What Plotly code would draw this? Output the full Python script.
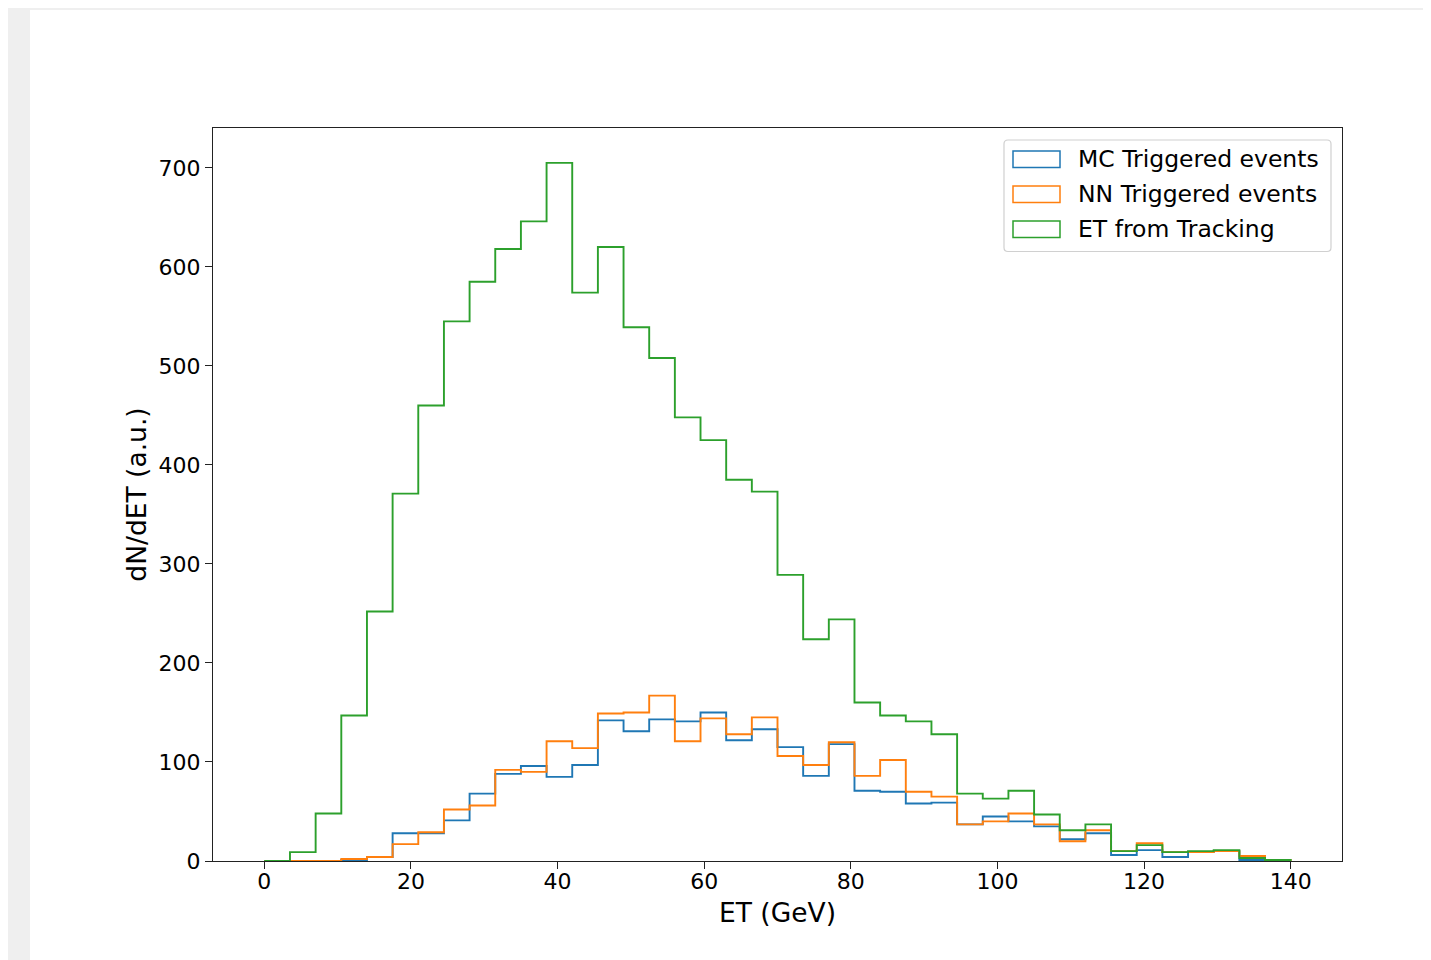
import plotly.graph_objects as go

# ---- data ----
bin_start = 0.0
bin_width = 3.5
n_bins = 40

mc_triggered = [0, 0, 0, 1, 4, 28, 28, 41, 68, 88, 96, 85, 97, 142, 131, 143, 141, 150, 122, 133,
                115, 86, 118, 71, 70, 58, 59, 37, 45, 40, 35, 22, 28, 6, 11, 4, 9, 10, 1, 0]
nn_triggered = [0, 0, 0, 2, 4, 17, 29, 52, 56, 92, 90, 121, 114, 149, 150, 167, 121, 144, 128, 145,
                106, 97, 120, 86, 102, 70, 65, 37, 40, 48, 37, 20, 31, 10, 18, 9, 9, 10, 5, 1]
et_tracking = [0, 9, 48, 147, 252, 371, 460, 545, 585, 618, 646, 705, 574, 620, 539, 508, 448, 425, 385, 373,
               289, 224, 244, 160, 147, 141, 128, 68, 63, 71, 47, 31, 37, 10, 16, 9, 10, 11, 3, 1]

series_names = ["MC Triggered events", "NN Triggered events", "ET from Tracking"]
series_colors = ["#1f77b4", "#ff7f0e", "#2ca02c"]
series_values = [mc_triggered, nn_triggered, et_tracking]

x_ticks = [0, 20, 40, 60, 80, 100, 120, 140]
y_ticks = [0, 100, 200, 300, 400, 500, 600, 700]

edges = [bin_start + i * bin_width for i in range(n_bins + 1)]

# ---- geometry of the page (page body offsets the figure by 8px) ----
OFF = 8
W, H = 1431, 960
L, T = 213 - OFF, 128 - OFF
pw, ph = 1129, 733
R, B = W - L - pw, H - T - ph


def px_x(px):
    return (px - OFF - L) / pw


def px_y(py):
    return (T + ph - (py - OFF)) / ph


FONT = "DejaVu Sans"
fig = go.Figure()

for name, color, vals in zip(series_names, series_colors, series_values):
    xs = [edges[0]] + edges[:-1] + [edges[-1]]
    ys = [0] + list(vals) + [0]
    fig.add_trace(go.Scatter(
        x=xs, y=ys, mode="lines", line=dict(color=color, width=1.9, shape="hv"),
        name=name, showlegend=False, hoverinfo="skip"))

x_lo, x_hi = edges[0] - 0.05 * (edges[-1] - edges[0]), edges[-1] + 0.05 * (edges[-1] - edges[0])
y_hi = 1.05 * max(max(v) for v in series_values)

axis_common = dict(
    showgrid=False, zeroline=False, showline=True, linecolor="#222", linewidth=1.3,
    mirror=True, ticks="outside", ticklen=7, tickwidth=1.3, tickcolor="#222",
    tickfont=dict(family=FONT, size=22, color="black"),
)

fig.update_xaxes(range=[x_lo, x_hi], tickvals=x_ticks, ticklabelstandoff=-7,
                 title=dict(text="ET (GeV)", font=dict(family=FONT, size=26.5, color="black"), standoff=10),
                 **axis_common)
fig.update_yaxes(range=[0, y_hi], tickvals=y_ticks,
                 title=dict(text="dN/dET (a.u.)", font=dict(family=FONT, size=26.5, color="black"), standoff=4),
                 **axis_common)

shapes = []
# white figure area over grey page
shapes.append(dict(type="rect", xref="paper", yref="paper", layer="below",
                   x0=px_x(30), x1=px_x(W + 40), y0=px_y(H + 40), y1=px_y(10),
                   fillcolor="white", line=dict(width=0)))

# legend box (rounded)
bx0, bx1, by0, by1 = 1004, 1331, 140, 251.5
r = 4
rx, ry = r / pw, r / ph
X0, X1, Y0, Y1 = px_x(bx0), px_x(bx1), px_y(by1), px_y(by0)
path = (f"M {X0+rx},{Y0} L {X1-rx},{Y0} Q {X1},{Y0} {X1},{Y0+ry} "
        f"L {X1},{Y1-ry} Q {X1},{Y1} {X1-rx},{Y1} "
        f"L {X0+rx},{Y1} Q {X0},{Y1} {X0},{Y1-ry} "
        f"L {X0},{Y0+ry} Q {X0},{Y0} {X0+rx},{Y0} Z")
shapes.append(dict(type="path", xref="paper", yref="paper", path=path,
                   fillcolor="rgba(255,255,255,0.8)", line=dict(color="#d0d0d0", width=1.2)))

annotations = []
row_centers = [159.3, 194.3, 229.3]
for name, color, cy in zip(series_names, series_colors, row_centers):
    shapes.append(dict(type="rect", xref="paper", yref="paper",
                       x0=px_x(1013), x1=px_x(1060), y0=px_y(cy + 8.3), y1=px_y(cy - 8.3),
                       fillcolor="rgba(0,0,0,0)", line=dict(color=color, width=1.5)))
    annotations.append(dict(xref="paper", yref="paper", x=px_x(1076), y=px_y(cy),
                            xanchor="left", yanchor="middle", showarrow=False, text=name,
                            font=dict(family=FONT, size=23.5, color="black")))

fig.update_layout(
    width=W, height=H, autosize=False,
    margin=dict(l=L, r=R, t=T, b=B, pad=0),
    paper_bgcolor="#efefef", plot_bgcolor="white",
    shapes=shapes, annotations=annotations, showlegend=False,
    font=dict(family=FONT, color="black"),
)

fig.write_html("out.html")
